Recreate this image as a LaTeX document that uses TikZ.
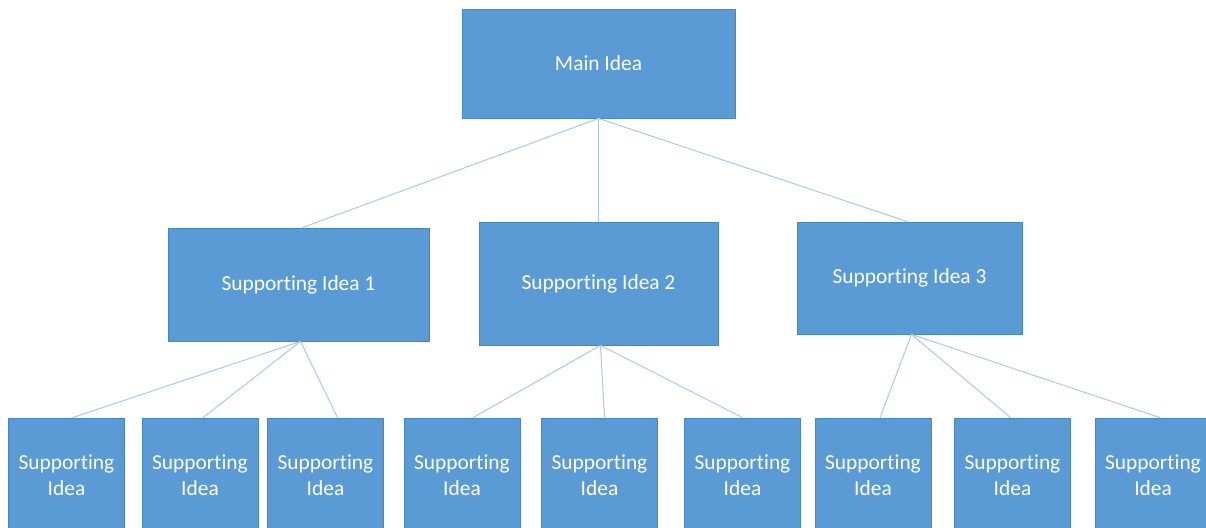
\documentclass[tikz,border=0pt]{standalone}
\usepackage{fontspec}
\setmainfont[Ligatures={NoCommon}]{Carlito}
\begin{document}
\begin{tikzpicture}[x=1pt,y=-1pt,
  idea/.style={draw=ideaedge,fill=ideafill,line width=0.8pt,text=white,
    font=\fontsize{21.4}{25.5}\selectfont,align=center,inner sep=0pt},
  link/.style={draw=linkblue,line width=1pt}]
  \definecolor{ideafill}{HTML}{5B9BD5}
  \definecolor{ideaedge}{HTML}{4A86C0}
  \definecolor{linkblue}{HTML}{A9C8EA}
  \useasboundingbox (0,0) rectangle (1206,527);
  \clip (0,0) rectangle (1206,527);
  \node [idea,minimum width=273pt,minimum height=109pt] (main) at (598.5,63.5) {Main Idea};
  \node [idea,minimum width=261pt,minimum height=113pt] (si1) at (298.5,284.5) {Supporting Idea 1};
  \node [idea,minimum width=239pt,minimum height=123pt] (si2) at (598.5,283.5) {Supporting Idea 2};
  \node [idea,minimum width=225pt,minimum height=112pt] (si3) at (909.5,278) {Supporting Idea 3};
  \foreach \n/\x in {b1/66.5,b2/200,b3/325.5,b4/462,b5/599.5,b6/742.5,b7/873,b8/1012.5,b9/1153}
    \node [idea,minimum width=116pt,minimum height=114pt] (\n) at (\x,475) {Supporting\\Idea};
  \draw [link] (main.south) -- ([xshift=4pt]si1.north);
  \draw [link] (main.south) -- (si2.north);
  \draw [link] (main.south) -- ([xshift=-2pt]si3.north);
  \foreach \p/\n/\d in {si1/b1/6,si1/b2/3,si1/b3/12,si2/b4/11,si2/b5/5,si2/b6/0,si3/b7/7,si3/b8/-2,si3/b9/7}
    \draw [link] ([xshift=2pt]\p.south) -- ([xshift=\d pt]\n.north);
\end{tikzpicture}
\end{document}
